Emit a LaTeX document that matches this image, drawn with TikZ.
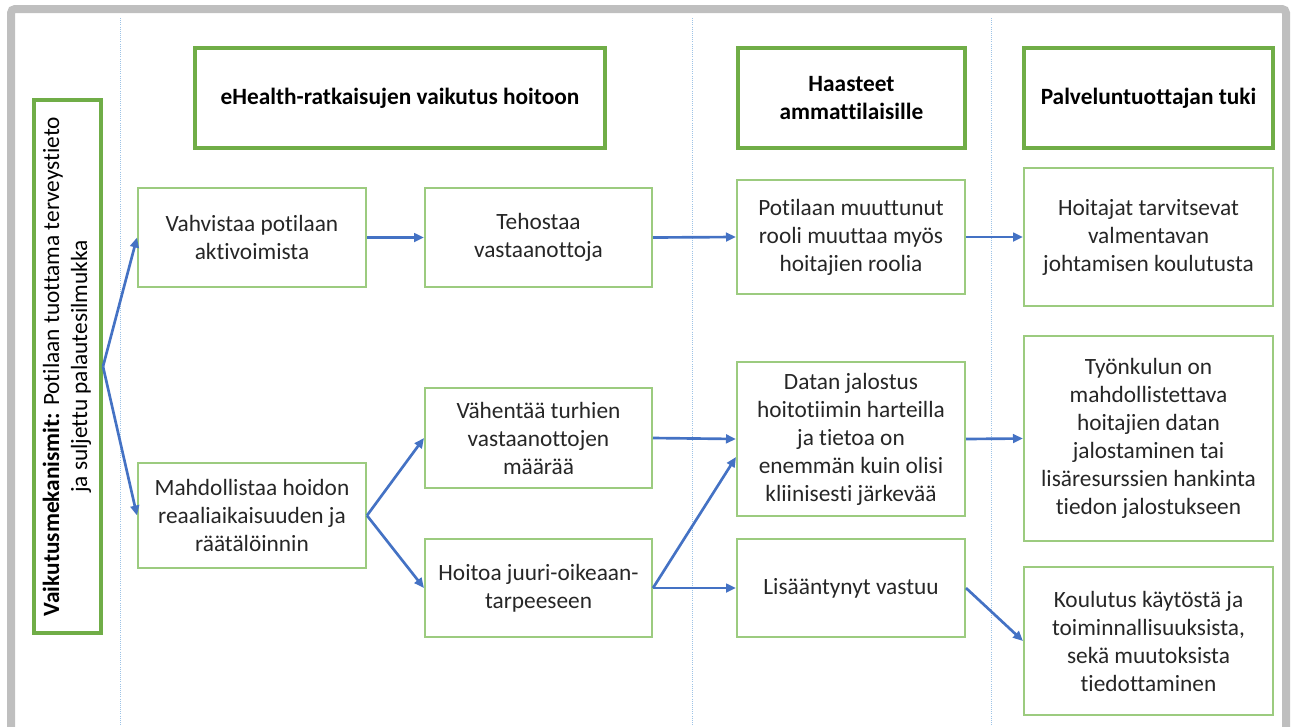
\documentclass[tikz,border=0pt]{standalone}
\usepackage{fontspec}
\setmainfont{Carlito}[Ligatures=NoCommon]
\usepackage{graphicx}
\usetikzlibrary{arrows.meta}
\definecolor{frgrey}{HTML}{BFBFBF}
\definecolor{hdgreen}{HTML}{70AD47}
\definecolor{bxgreen}{HTML}{9CCB7F}
\definecolor{arblue}{HTML}{4472C4}
\definecolor{sepblue}{HTML}{9DC3E6}
\definecolor{txtgrey}{HTML}{262626}
\begin{document}
\begin{tikzpicture}[x=0.75pt,y=-0.75pt,
bx/.style={draw=bxgreen, line width=1.5pt, align=center, text=txtgrey, font=\fontsize{17.5}{21}\selectfont, inner sep=2pt},
hd/.style={draw=hdgreen, line width=3pt, align=center, text=black, font=\fontsize{17.5}{21}\selectfont\bfseries, inner sep=2pt},
arr/.style={draw=arblue, line width=2pt, -{Triangle[length=7.5pt,width=6.5pt]}},
sep/.style={draw=sepblue, line width=0.6pt, densely dotted}]
\useasboundingbox (0,0) rectangle (1297,726);
\draw[draw=frgrey, line width=6pt, rounded corners=3pt] (11,732) -- (11,9) -- (1286,9) -- (1286,732);
\draw[sep] (120,18) -- (120,726);
\draw[sep] (692,18) -- (692,726);
\draw[sep] (991,18) -- (991,726);
\node[hd, minimum width=50.25pt, minimum height=399.75pt] (mek) at (67.5,366.5){\rotatebox{90}{\begin{tabular}{@{}c@{}}\textbf{Vaikutusmekanismit}: \mdseries Potilaan tuottama terveystieto\\\mdseries ja suljettu palautesilmukka\end{tabular}}};
\node[hd, minimum width=307.5pt, minimum height=75pt] (hdr0) at (400,98){eHealth-ratkaisujen vaikutus hoitoon};
\node[hd, minimum width=170.25pt, minimum height=75pt] (hdr1) at (851.5,98){Haasteet\\ammattilaisille};
\node[hd, minimum width=186.75pt, minimum height=75pt] (hdr2) at (1148.5,98){Palveluntuottajan tuki};
\node[bx, minimum width=171pt, minimum height=74.25pt] (vah) at (252,237.5){Vahvistaa potilaan\\aktivoimista};
\node[bx, minimum width=170.25pt, minimum height=74.25pt] (teh) at (538.5,237.5){Tehostaa\\vastaanottoja};
\node[bx, minimum width=171pt, minimum height=85.5pt] (pot) at (851,237){Potilaan muuttunut\\rooli muuttaa myös\\hoitajien roolia};
\node[bx, minimum width=186.75pt, minimum height=103.5pt] (hoi) at (1148.5,237){Hoitajat tarvitsevat\\valmentavan\\johtamisen koulutusta};
\draw[arr](mek.east) -- (vah.west);
\draw[arr](vah.east) -- (teh.west);
\draw[arr](teh.east) -- (pot.west);
\draw[arr](pot.east) -- (hoi.west);
\node[bx, minimum width=171pt, minimum height=78.75pt] (mah) at (252,515.5){Mahdollistaa hoidon\\reaaliaikaisuuden ja\\räätälöinnin};
\node[bx, minimum width=170.25pt, minimum height=75pt] (vaht) at (538.5,438){Vähentää turhien\\vastaanottojen\\määrää};
\node[bx, minimum width=170.25pt, minimum height=73.5pt] (juu) at (538.5,588){Hoitoa juuri-oikeaan-\\tarpeeseen};
\draw[arr](mek.east) -- (mah.west);
\draw[arr](mah.east) -- (vaht.west);
\draw[arr](mah.east) -- (juu.west);
\node[bx, minimum width=171pt, minimum height=115.5pt] (dat) at (851,439){Datan jalostus\\hoitotiimin harteilla\\ja tietoa on\\enemmän kuin olisi\\kliinisesti järkevää};
\node[bx, minimum width=171pt, minimum height=73.5pt] (lis) at (851,588){Lisääntynyt vastuu};
\draw[arr](vaht.east) -- (dat.west);
\draw[arr](juu.east) -- ([yshift=-13.5pt]dat.west);
\draw[arr](juu.east) -- (lis.west);
\node[bx, minimum width=186.75pt, minimum height=153.75pt] (tyo) at (1148.5,438.5){Työnkulun on\\mahdollistettava\\hoitajien datan\\jalostaminen tai\\lisäresurssien hankinta\\tiedon jalostukseen};
\node[bx, minimum width=186.75pt, minimum height=111pt] (kou) at (1148.5,641){Koulutus käytöstä ja\\toiminnallisuuksista,\\sekä muutoksista\\tiedottaminen};
\draw[arr](dat.east) -- (tyo.west);
\draw[arr](lis.east) -- (kou.west);
\end{tikzpicture}
\end{document}
